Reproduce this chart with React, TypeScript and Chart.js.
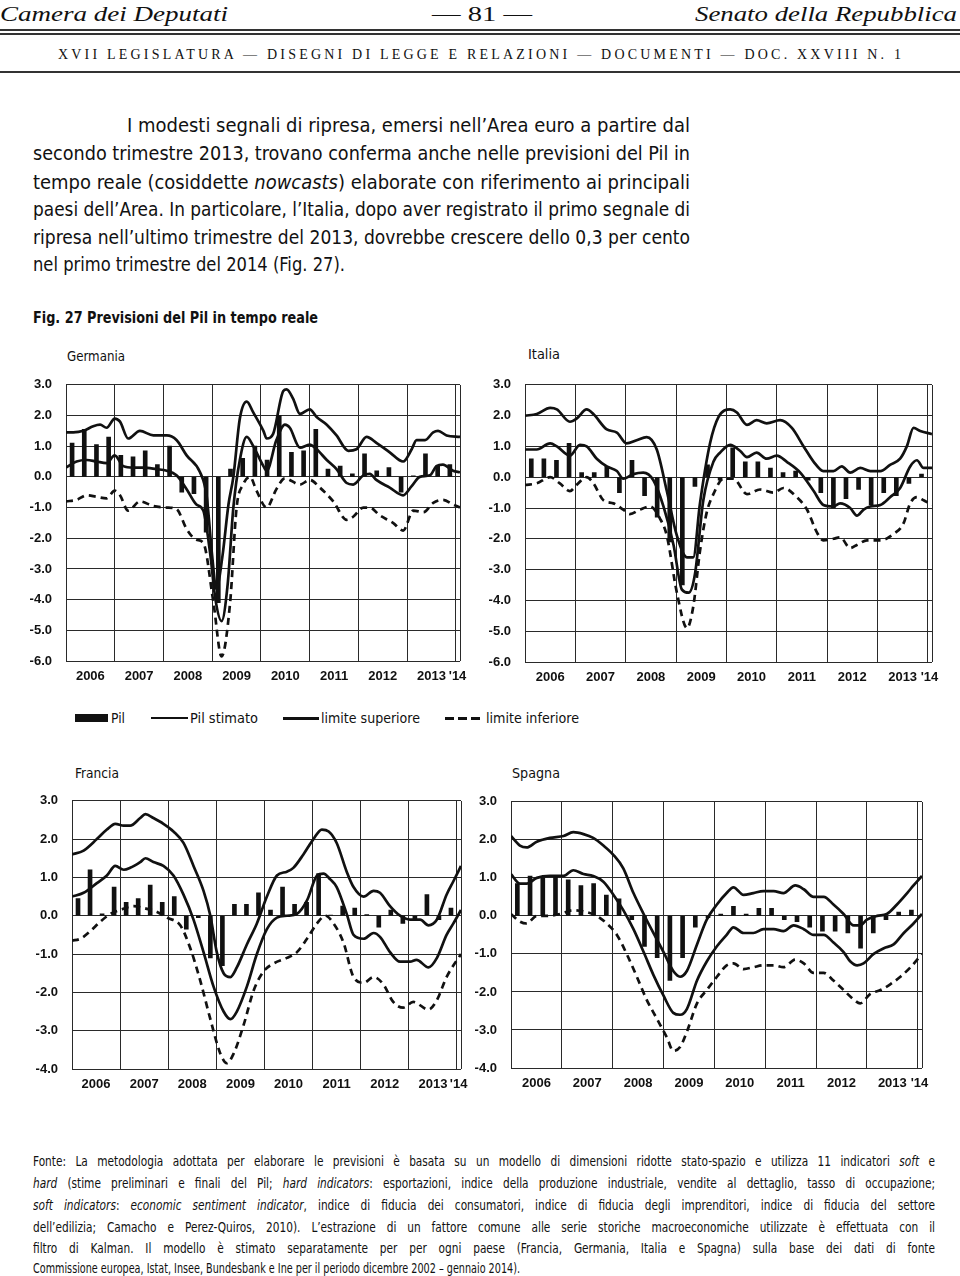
import React, { useEffect, useLayoutEffect, useRef } from "react";
import { Chart, registerables } from "chart.js";
Chart.register(...registerables);

// ---------- axis data ----------
const yearLabels = ["2006", "2007", "2008", "2009", "2010", "2011", "2012", "2013"];
const yearLabelMonths = [6, 18, 30, 42, 54, 66, 78, 90];
const lastLabel = "'14";
const lastLabelMonth = 96.4;
const yearBoundaries = [0, 12, 24, 36, 48, 60, 72, 84, 96, 97];

// ---------- Germania ----------
const deGdp = [1.1, 1.55, 1.05, 1.3, 0.7, 0.65, 0.85, 0.4, 1.0, -0.5, -0.55, -1.8, -4.1, 0.25, 0.6, 1.0, 0.55, 2.0, 0.8, 0.85, 1.55, 0.25, 0.35, 0.1, 0.75, 0.2, 0.3, -0.5, 0.03, 0.75, 0.35, 0.4];
const deUpper: [number, number][] = [[0,1.45],[1.8,1.45],[4.3,1.5],[6.7,1.65],[8.4,1.7],[10,1.6],[12,1.9],[13.3,1.8],[15.3,1.25],[18.2,1.5],[21.5,1.35],[24.8,1.35],[27.2,1.2],[29.7,0.7],[33,0.15],[34.6,-0.6],[36,-2.6],[37,-3.65],[38.5,-2.6],[40,-0.9],[41.2,0],[42.8,1.9],[44.5,2.45],[46.1,2.1],[48.6,1.5],[49.4,1.25],[51,1.4],[53.5,2.8],[54.3,2.85],[55.9,2.55],[57.6,2.05],[60,2.2],[61.7,1.95],[64.2,1.7],[66.6,1.35],[69.5,0.85],[71.5,0.9],[74,1.3],[76.5,1.1],[79.7,0.8],[83,0.5],[85.1,0.9],[86.3,1.2],[88.4,1.2],[90.4,1.45],[91.6,1.5],[93.7,1.35],[97,1.3]];
const deMid: [number, number][] = [[0,0.3],[2.6,0.5],[5.1,0.55],[7.5,0.5],[10,0.45],[12,0.7],[14.1,0.35],[16.6,0.3],[19,0.3],[22.3,0.25],[24.8,0.2],[27.2,0.05],[29.7,-0.4],[32.1,-0.9],[33.8,-1.1],[35.5,-2.5],[36.8,-4.0],[38.3,-4.7],[39.8,-3.5],[41.2,-1.0],[42.8,0.55],[44.5,1.3],[46.1,1.0],[48.6,0.35],[49.4,0.2],[51.8,1.2],[53.9,1.7],[55.1,1.6],[57.6,0.95],[60,1.05],[61.7,0.9],[64.2,0.55],[66.6,0.25],[69.1,-0.2],[70.7,-0.25],[73.2,0.05],[74.8,0.1],[76.4,-0.1],[79.7,-0.35],[83,-0.6],[85.1,-0.3],[87.1,0],[89.6,0.05],[91.2,0.35],[92.8,0.4],[95.3,0.2],[97,0.15]];
const deLower: [number, number][] = [[0,-0.8],[2.6,-0.75],[5.1,-0.6],[7.5,-0.65],[10,-0.7],[12,-0.45],[13.3,-0.6],[15.3,-1.1],[18.2,-0.8],[21.5,-0.95],[24.8,-1.0],[27.2,-1.05],[29.7,-1.7],[32.1,-2.05],[33.8,-2.15],[36.3,-4.1],[38.3,-5.85],[40.4,-4.1],[42,-1.0],[43.6,-0.25],[45.3,0],[46.9,-0.45],[49.4,-1.0],[51.8,-0.4],[53.9,-0.05],[57.6,-0.25],[60,-0.1],[62.5,-0.35],[65.8,-0.8],[69.1,-1.4],[70.7,-1.3],[73.2,-1.0],[74.8,-1.0],[77.2,-1.25],[80.5,-1.5],[83,-1.75],[85.5,-1.1],[88,-1.15],[90.4,-0.85],[92.8,-0.75],[95.3,-0.9],[97,-1.0]];

// ---------- Italia ----------
const itGdp = [0.6, 0.6, 0.55, 1.1, 0.15, 0.15, 0.35, -0.5, 0.55, -0.6, -1.3, -2.1, -3.5, -0.3, 0.4, -0.1, 0.95, 0.5, 0.5, 0.3, 0.15, 0.2, -0.1, -0.5, -1.0, -0.7, -0.4, -0.9, -0.5, -0.6, -0.2, 0.1];
const itUpper: [number, number][] = [[0,2.0],[2.8,2.05],[6,2.25],[7.6,2.2],[10.7,1.8],[12.3,1.9],[14.7,2.2],[16.3,2.05],[19.5,1.55],[21.9,1.45],[24.2,1.1],[26.6,1.2],[29,1.3],[31.4,0.9],[33.8,-0.45],[36.2,-1.9],[38.6,-2.6],[40.1,-2.6],[41.7,-0.85],[44.1,1.1],[46.1,1.95],[48.9,2.2],[50.5,2.1],[52.9,1.7],[55.2,1.85],[57.6,1.75],[60.8,1.85],[63.6,1.6],[66.4,1.0],[68.8,0.5],[71.1,0.2],[73.5,0.2],[75.5,0.35],[77.5,0.15],[79.9,0.3],[82.3,0.2],[84.7,0.2],[87,0.4],[89.4,0.6],[91,1.0],[92.6,1.6],[94.2,1.5],[97,1.4]];
const itMid: [number, number][] = [[0,0.9],[2.8,0.9],[6,1.1],[7.6,1.0],[10.7,0.7],[13.1,1.05],[14.7,1.0],[17.1,0.6],[19.5,0.35],[21.9,0.2],[23.4,-0.05],[25.8,0.1],[28.2,0.15],[30.6,-0.1],[33,-0.95],[35.4,-2.2],[37.4,-3.65],[39,-3.75],[40.5,-3.15],[42.5,-0.75],[44.9,0.5],[46.5,0.8],[48.9,1.05],[51.3,0.85],[52.9,0.65],[55.2,0.8],[57.6,0.6],[60,0.7],[62.4,0.5],[65.6,0.15],[68.8,-0.45],[71.1,-0.9],[73.5,-0.95],[75.1,-0.85],[77.5,-1.0],[79.1,-1.25],[80.7,-1.05],[82.3,-0.95],[84.7,-0.9],[87,-0.65],[89.4,-0.35],[91.8,0.35],[93.4,0.55],[95,0.3],[97,0.3]];
const itLower: [number, number][] = [[0,-0.25],[2.8,-0.2],[6,0],[8.3,-0.2],[10.7,-0.45],[12.3,-0.25],[14.7,0],[16.3,-0.2],[18.7,-0.75],[21.1,-0.85],[23.4,-1.05],[25,-1.2],[27.4,-1.05],[29.8,-0.95],[32.2,-1.35],[33.8,-1.9],[36.2,-3.75],[38.6,-4.9],[40.1,-4.2],[41.7,-2.4],[43.3,-1.15],[44.9,-0.55],[47.3,-0.05],[49.7,-0.05],[52.9,-0.55],[56,-0.4],[59.2,-0.5],[61.6,-0.35],[64.8,-0.65],[67.2,-1.05],[69.6,-1.8],[71.1,-2.05],[73.5,-2.0],[75.1,-1.95],[77.5,-2.3],[79.1,-2.2],[81.5,-2.05],[84.7,-2.05],[87.8,-1.85],[90.2,-1.5],[91.8,-0.85],[93.4,-0.65],[95,-0.75],[97,-0.9]];

// ---------- Francia ----------
const frGdp = [0.45, 1.2, 0.05, 0.75, 0.35, 0.45, 0.8, 0.35, 0.5, -0.35, -0.05, -1.1, -1.3, 0.3, 0.3, 0.6, 0.15, 0.75, 0.3, 0.35, 1.1, 0.02, 0.25, 0.2, 0.03, -0.3, 0.15, -0.2, -0.1, 0.55, -0.1, 0.2];
const frUpper: [number, number][] = [[0,1.6],[2.9,1.7],[6.2,2.0],[8.7,2.25],[10.8,2.4],[12.9,2.35],[14.5,2.35],[17,2.55],[18.3,2.65],[20.3,2.55],[22.8,2.4],[25.3,2.2],[27.8,1.9],[30.3,1.3],[32.8,0.65],[34.5,0],[36.1,-0.95],[37.8,-1.5],[39.5,-1.6],[41.1,-1.35],[43.6,-0.75],[46.1,-0.2],[48.6,0.5],[51.1,1.05],[53.6,1.15],[55.2,1.25],[57.7,1.6],[60.2,2.0],[62.3,2.25],[64,2.2],[66,1.9],[68.5,1.15],[70.2,0.75],[72.7,0.5],[75.2,0.65],[76.8,0.6],[79.3,0.25],[81.8,0],[84.3,-0.1],[86.8,-0.1],[88.9,-0.25],[91,-0.1],[93.4,0.55],[95.1,0.9],[97,1.3]];
const frMid: [number, number][] = [[0,0.5],[2.9,0.6],[6.2,0.85],[8.7,1.05],[10.8,1.3],[12.9,1.2],[14.5,1.25],[17,1.4],[18.3,1.5],[20.3,1.4],[22.8,1.3],[25.3,1.05],[27.8,0.55],[30.3,-0.1],[32.8,-0.95],[35.3,-1.85],[37.8,-2.5],[39.5,-2.7],[41.1,-2.5],[43.6,-1.85],[46.1,-1.0],[48.6,-0.35],[51.1,-0.05],[53.6,0],[56.1,0.05],[58.6,0.4],[61.1,1.05],[62.7,1.1],[64.4,0.95],[66,0.75],[68.5,0.05],[70.2,-0.5],[72.7,-0.6],[75.2,-0.45],[76.8,-0.55],[79.3,-0.95],[81.8,-1.2],[84.3,-1.2],[85.9,-1.15],[88.9,-1.35],[91,-1.1],[93.4,-0.5],[95.1,-0.2],[97,0.15]];
const frLower: [number, number][] = [[0,-0.65],[2.1,-0.6],[4.6,-0.4],[7.1,-0.15],[9.6,0.05],[12,0.15],[15.4,0.25],[17.9,0.2],[21.2,0.1],[23.7,-0.05],[27,-0.25],[29.5,-0.85],[32,-1.7],[34.5,-2.7],[37,-3.6],[38.6,-3.85],[40.3,-3.6],[42.8,-2.85],[45.3,-1.95],[47.8,-1.45],[50.2,-1.25],[53.6,-1.1],[56.1,-0.95],[58.6,-0.6],[61.1,-0.2],[63.2,0],[65.2,-0.2],[67.7,-0.7],[70.2,-1.6],[72.7,-1.75],[75.2,-1.6],[77.7,-1.8],[80.1,-2.25],[82.6,-2.4],[85.1,-2.25],[88.9,-2.45],[91,-2.2],[93.4,-1.6],[97,-1.0]];

// ---------- Spagna ----------
const esGdp = [0.85, 1.05, 1.0, 1.05, 0.95, 0.8, 0.85, 0.55, 0.45, -0.1, -0.8, -1.1, -1.7, -1.1, -0.3, -0.05, 0.05, 0.25, 0.05, 0.2, 0.2, -0.1, -0.15, -0.3, -0.4, -0.4, -0.45, -0.85, -0.45, -0.1, 0.1, 0.15];
const esUpper: [number, number][] = [[0,2.1],[2.1,1.85],[3.7,1.8],[6.1,1.95],[9.2,2.05],[12.4,2.1],[14.7,2.2],[17.1,2.15],[19.4,2.05],[21.8,1.85],[24.2,1.6],[26.5,1.25],[28.9,0.6],[31.3,0.05],[33.6,-0.45],[36,-0.95],[38.3,-1.45],[39.9,-1.6],[41.5,-1.45],[43.9,-0.75],[46.2,-0.1],[48.6,0.3],[50.9,0.6],[52.5,0.75],[54.9,0.55],[57.2,0.6],[59.6,0.65],[62,0.65],[64.3,0.6],[67.1,0.8],[69.1,0.7],[71.4,0.5],[73.8,0.5],[76.1,0.3],[78.5,0.05],[80.9,-0.25],[82.4,-0.25],[84,-0.1],[86.4,0],[88.7,0.05],[91.1,0.3],[93.5,0.6],[95,0.8],[97,1.05]];
const esMid: [number, number][] = [[0,1.1],[2.1,0.85],[3.7,0.85],[6.1,1.0],[9.2,1.05],[12.4,1.05],[14.7,1.2],[17.1,1.1],[19.4,1.05],[21.8,0.9],[24.2,0.55],[26.5,0.15],[28.9,-0.35],[31.3,-0.95],[33.6,-1.55],[36,-2.1],[38.3,-2.55],[39.9,-2.6],[41.5,-2.45],[43.9,-1.7],[46.2,-1.2],[48.6,-0.8],[50.9,-0.5],[52.5,-0.3],[54.9,-0.45],[57.2,-0.45],[59.6,-0.35],[62,-0.35],[64.3,-0.4],[66.7,-0.25],[69.1,-0.35],[71.4,-0.5],[73.8,-0.5],[76.1,-0.7],[78.5,-0.95],[80.1,-1.2],[81.7,-1.3],[83.2,-1.25],[85.6,-1.0],[88,-0.85],[90.3,-0.75],[92.7,-0.45],[95,-0.2],[97,0.05]];
const esLower: [number, number][] = [[0,0.05],[2.1,-0.15],[3.7,-0.2],[6.1,0],[8.4,0],[11.6,0.05],[14.7,0.15],[17.8,0.1],[20.2,0],[22.6,-0.2],[25,-0.5],[27.3,-1.0],[29.7,-1.6],[32,-2.2],[34.4,-2.7],[36.8,-3.2],[38.3,-3.55],[39.9,-3.45],[41.5,-3.05],[43.9,-2.3],[46.2,-1.95],[48.6,-1.6],[50.9,-1.3],[52.5,-1.25],[54.9,-1.4],[57.2,-1.35],[59.6,-1.3],[62,-1.3],[64.3,-1.35],[67.1,-1.15],[69.1,-1.25],[71.4,-1.5],[73.8,-1.5],[76.1,-1.7],[78.5,-1.95],[80.9,-2.2],[82.4,-2.3],[84.8,-2.05],[87.2,-1.95],[89.5,-1.8],[91.9,-1.6],[94.3,-1.35],[97,-1.0]];

const SANS = "'Liberation Sans Narrow', 'Arial Narrow', 'DejaVu Sans Condensed', 'Liberation Sans', sans-serif";
const SERIF = "'Liberation Serif', 'DejaVu Serif', serif";
const INK = "#111";

type Spec = {
  gdp: number[];
  upper: [number, number][];
  mid: [number, number][];
  lower: [number, number][];
  yMin: number;
  yMax: number;
  L: number; T: number; R: number; B: number;
};

const YW = 46, PT = 10, PR = 16, XH = 30;

function CountryChart({ spec }: { spec: Spec }) {
  const ref = useRef<HTMLCanvasElement>(null);
  const W = YW + (spec.R - spec.L) + PR;
  const H = PT + (spec.B - spec.T) + XH;
  useEffect(() => {
    const tickFont = { family: "'Liberation Sans', Arial, sans-serif", size: 13, weight: "bold" as const };
    const toPts = (a: [number, number][]) => a.map(([x, y]) => ({ x, y }));
    const line = (label: string, d: [number, number][], dash: number[]) => ({
      type: "line" as const,
      label,
      data: toPts(d),
      borderColor: INK,
      borderWidth: 2.7,
      borderDash: dash,
      pointRadius: 0,
      cubicInterpolationMode: "monotone" as const,
      order: 0,
    });
    const xLabelTicks = [...yearLabelMonths, lastLabelMonth];
    const xLabelTexts = [...yearLabels, lastLabel];
    const chart = new Chart(ref.current!, {
      type: "line",
      data: {
        datasets: [
          line("limite superiore", spec.upper, []),
          line("Pil stimato", spec.mid, []),
          line("limite inferiore", spec.lower, [7, 5]),
          {
            type: "bar",
            label: "Pil",
            data: spec.gdp.map((y, k) => ({ x: 1.5 + 3 * k, y })),
            backgroundColor: INK,
            borderWidth: 0,
            barThickness: 4,
            order: 1,
          } as any,
        ],
      },
      options: {
        animation: false,
        responsive: false,
        devicePixelRatio: 1,
        layout: { padding: { left: 0, right: PR, top: PT, bottom: 0 } },
        plugins: { legend: { display: false }, tooltip: { enabled: false } },
        scales: {
          x: {
            type: "linear",
            min: 0,
            max: 97,
            offset: false,
            grid: { display: false, drawTicks: false },
            border: { display: false },
            afterBuildTicks: (s: any) => { s.ticks = xLabelTicks.map((v) => ({ value: v })); },
            afterFit: (s: any) => { s.height = XH; },
            ticks: {
              autoSkip: false,
              maxRotation: 0,
              padding: 8,
              color: INK,
              font: tickFont,
              callback: (_v: any, i: number) => xLabelTexts[i],
            },
          },
          xg: {
            type: "linear",
            position: "top",
            min: 0,
            max: 97,
            offset: false,
            afterBuildTicks: (s: any) => { s.ticks = yearBoundaries.map((v) => ({ value: v })); },
            afterFit: (s: any) => { s.height = 0; },
            ticks: { display: false },
            grid: { color: "#2a2a2a", lineWidth: 1, drawTicks: false },
            border: { display: false },
          },
          y: {
            min: spec.yMin,
            max: spec.yMax,
            afterFit: (s: any) => { s.width = YW; },
            ticks: {
              stepSize: 1,
              padding: 14,
              color: INK,
              font: tickFont,
              callback: (v: any) => Number(v).toFixed(1),
            },
            grid: { color: "#2a2a2a", lineWidth: 1, drawTicks: false },
            border: { display: false },
          },
        },
      } as any,
    });
    return () => chart.destroy();
  }, [spec]);
  return (
    <canvas
      ref={ref}
      width={W}
      height={H}
      style={{ position: "absolute", left: spec.L - YW, top: spec.T - PT, width: W, height: H }}
    />
  );
}

type TLProps = {
  x: number; y: number; w?: number; size: number; family?: string;
  weight?: number | string; italic?: boolean; mode?: "scale" | "justify" | "letter";
  cond?: number;
  children: React.ReactNode;
};

function TL(p: TLProps) {
  const ref = useRef<HTMLDivElement>(null);
  useLayoutEffect(() => {
    const el = ref.current;
    if (!el) return;
    const fit = () => {
      el.style.wordSpacing = "0px";
      el.style.letterSpacing = "0px";
      el.style.transform = "none";
      if (!p.w) return;
      const nat = el.getBoundingClientRect().width;
      const text = el.textContent || "";
      const spaces = text.split(" ").length - 1;
      const c = p.cond ?? 1;
      if (p.mode === "justify" && spaces > 0 && nat * c < p.w) {
        el.style.wordSpacing = `${(p.w / c - nat) / spaces}px`;
        if (c !== 1) el.style.transform = `scaleX(${c})`;
      } else if (p.mode === "letter" && nat < p.w && text.length > 1) {
        el.style.letterSpacing = `${(p.w - nat) / (text.length - 1)}px`;
      } else if (nat > 0) {
        el.style.transform = `scaleX(${p.w / nat})`;
      }
    };
    fit();
    const f = (document as any).fonts;
    if (f && f.ready) f.ready.then(fit);
  }, []);
  return (
    <div
      ref={ref}
      style={{
        position: "absolute",
        left: p.x,
        top: p.y - p.size * 0.65,
        whiteSpace: "pre",
        fontSize: p.size,
        lineHeight: `${Math.round(p.size * 1.3)}px`,
        fontFamily: p.family ?? SANS,
        fontWeight: p.weight ?? 400,
        fontStyle: p.italic ? "italic" : "normal",
        transformOrigin: "0 50%",
        color: INK,
      }}
    >
      {p.children}
    </div>
  );
}

const specs: Record<string, Spec> = {
  de: { gdp: deGdp, upper: deUpper, mid: deMid, lower: deLower, yMin: -6, yMax: 3, L: 66, T: 373, R: 460, B: 661 },
  it: { gdp: itGdp, upper: itUpper, mid: itMid, lower: itLower, yMin: -6, yMax: 3, L: 525, T: 373, R: 932, B: 662 },
  fr: { gdp: frGdp, upper: frUpper, mid: frMid, lower: frLower, yMin: -4, yMax: 3, L: 72, T: 789, R: 461, B: 1069 },
  es: { gdp: esGdp, upper: esUpper, mid: esMid, lower: esLower, yMin: -4, yMax: 3, L: 511, T: 790, R: 922, B: 1068 },
};

export default function App() {
  const paraY = [125, 153, 182, 209, 237, 264];
  const footY = [1161, 1183, 1205, 1227, 1248, 1268];
  const footSize = 13.5;
  const fc = 0.87;
  return (
    <div style={{ position: "absolute", left: 0, top: 0, width: 960, height: 1276, background: "#fff", overflow: "hidden" }}>
      {/* header */}
      <TL x={0} y={13} w={228} size={22} family={SERIF} italic>Camera dei Deputati</TL>
      <TL x={432} y={13} w={100} size={22} family={SERIF}>— 81 —</TL>
      <TL x={695} y={13} w={262} size={22} family={SERIF} italic>Senato della Repubblica</TL>
      <div style={{ position: "absolute", left: 0, top: 29, width: 960, height: 1.5, background: "#333" }} />
      <div style={{ position: "absolute", left: 0, top: 33, width: 960, height: 1.5, background: "#333" }} />
      <TL x={58} y={55} w={843} size={14} family={SERIF} mode="letter">XVII LEGISLATURA — DISEGNI DI LEGGE E RELAZIONI — DOCUMENTI — DOC. XXVIII N. 1</TL>
      <div style={{ position: "absolute", left: 0, top: 71, width: 960, height: 1.5, background: "#333" }} />

      {/* paragraph */}
      <TL x={127} y={paraY[0]} w={563} size={20} mode="justify">I modesti segnali di ripresa, emersi nell’Area euro a partire dal</TL>
      <TL x={33} y={paraY[1]} w={657} size={20} mode="justify">secondo trimestre 2013, trovano conferma anche nelle previsioni del Pil in</TL>
      <TL x={33} y={paraY[2]} w={657} size={20} mode="justify">tempo reale (cosiddette <i>nowcasts</i>) elaborate con riferimento ai principali</TL>
      <TL x={33} y={paraY[3]} w={657} size={20} mode="justify">paesi dell’Area. In particolare, l’Italia, dopo aver registrato il primo segnale di</TL>
      <TL x={33} y={paraY[4]} w={657} size={20} mode="justify">ripresa nell’ultimo trimestre del 2013, dovrebbe crescere dello 0,3 per cento</TL>
      <TL x={33} y={paraY[5]} w={312} size={20}>nel primo trimestre del 2014 (Fig. 27).</TL>

      <TL x={33} y={318} w={285} size={15} weight={700}>Fig. 27 Previsioni del Pil in tempo reale</TL>

      {/* chart titles */}
      <TL x={67} y={356} w={58} size={14}>Germania</TL>
      <TL x={528} y={354} w={32} size={14}>Italia</TL>
      <TL x={75} y={773} w={44} size={14}>Francia</TL>
      <TL x={512} y={773} w={48} size={14}>Spagna</TL>

      <CountryChart spec={specs.de} />
      <CountryChart spec={specs.it} />
      <CountryChart spec={specs.fr} />
      <CountryChart spec={specs.es} />

      {/* legend */}
      <div style={{ position: "absolute", left: 75, top: 714, width: 33, height: 8, background: INK }} />
      <TL x={111} y={718} w={14} size={14}>Pil</TL>
      <div style={{ position: "absolute", left: 151, top: 717, width: 37, height: 2, background: INK }} />
      <TL x={190} y={718} w={68} size={14}>Pil stimato</TL>
      <div style={{ position: "absolute", left: 283, top: 717, width: 36, height: 2.5, background: INK }} />
      <TL x={321} y={718} w={99} size={14}>limite superiore</TL>
      <div style={{ position: "absolute", left: 445, top: 717, width: 9, height: 3, background: INK }} />
      <div style={{ position: "absolute", left: 458, top: 717, width: 9, height: 3, background: INK }} />
      <div style={{ position: "absolute", left: 471, top: 717, width: 9, height: 3, background: INK }} />
      <TL x={486} y={718} w={93} size={14}>limite inferiore</TL>

      {/* footnote */}
      <TL x={33} y={footY[0]} w={902} size={footSize} cond={fc} mode="justify">Fonte: La metodologia adottata per elaborare le previsioni è basata su un modello di dimensioni ridotte stato-spazio e utilizza 11 indicatori <i>soft</i> e</TL>
      <TL x={33} y={footY[1]} w={902} size={footSize} cond={fc} mode="justify"><i>hard</i> (stime preliminari e finali del Pil; <i>hard indicators</i>: esportazioni, indice della produzione industriale, vendite al dettaglio, tasso di occupazione;</TL>
      <TL x={33} y={footY[2]} w={902} size={footSize} cond={fc} mode="justify"><i>soft indicators</i>: <i>economic sentiment indicator</i>, indice di fiducia dei consumatori, indice di fiducia degli imprenditori, indice di fiducia del settore</TL>
      <TL x={33} y={footY[3]} w={902} size={footSize} cond={fc} mode="justify">dell’edilizia; Camacho e Perez-Quiros, 2010). L’estrazione di un fattore comune alle serie storiche macroeconomiche utilizzate è effettuata con il</TL>
      <TL x={33} y={footY[4]} w={902} size={footSize} cond={fc} mode="justify">filtro di Kalman. Il modello è stimato separatamente per per ogni paese (Francia, Germania, Italia e Spagna) sulla base dei dati di fonte</TL>
      <TL x={33} y={footY[5]} w={487} size={footSize}>Commissione europea, Istat, Insee, Bundesbank e Ine per il periodo dicembre 2002 – gennaio 2014).</TL>
    </div>
  );
}
